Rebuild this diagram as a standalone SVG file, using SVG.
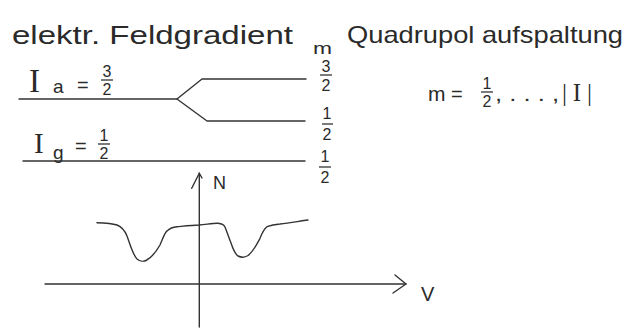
<svg xmlns="http://www.w3.org/2000/svg" width="632" height="329" viewBox="0 0 632 329">
<style>
text{font-family:"Liberation Sans",Arial,sans-serif;fill:#2a2a2a}
.sf{font-family:"Liberation Serif","Times New Roman",serif}
.ln{stroke:#333;stroke-width:1.4;fill:none;stroke-linecap:round;stroke-linejoin:round}
.fr{font-size:16px;text-anchor:middle}
.bar{stroke:#333;stroke-width:1.3}
</style>
<rect width="632" height="329" fill="#fff"/>
<g id="headings">
<text x="12" y="44" font-size="25" textLength="281" lengthAdjust="spacingAndGlyphs">elektr. Feldgradient</text>
<text x="347" y="43" font-size="24" textLength="276" lengthAdjust="spacingAndGlyphs">Quadrupol aufspaltung</text>
</g>
<g id="levels">
<path class="ln" d="M19 99 H177 L202 79 H306"/>
<path class="ln" d="M177 99 L207 121 H305"/>
<path class="ln" d="M23 161 H305"/>
</g>
<g id="level-labels">
<text class="sf" x="29" y="92" font-size="33">I</text>
<text x="53" y="93" font-size="19">a</text>
<text x="77" y="92" font-size="20">=</text>
<text class="fr" x="107" y="77">3</text><line class="bar" x1="101" y1="80" x2="113" y2="80"/><text class="fr" x="107" y="95">2</text>
<text class="sf" x="34" y="153" font-size="29">I</text>
<text x="53" y="159" font-size="19">g</text>
<text x="75" y="153" font-size="20">=</text>
<text class="fr" x="104" y="141">1</text><line class="bar" x1="98" y1="144" x2="110" y2="144"/><text class="fr" x="104" y="159">2</text>
</g>
<g id="m-labels">
<text x="313" y="54" font-size="16" textLength="19" lengthAdjust="spacingAndGlyphs">m</text>
<text class="fr" x="326" y="72">3</text><line class="bar" x1="320" y1="75" x2="332" y2="75"/><text class="fr" x="326" y="91">2</text>
<text class="fr" x="327" y="119">1</text><line class="bar" x1="322" y1="124" x2="333" y2="124"/><text class="fr" x="327" y="140">2</text>
<text class="fr" x="325" y="162">1</text><line class="bar" x1="319" y1="167" x2="331" y2="167"/><text class="fr" x="325" y="183">2</text>
</g>
<g id="m-range">
<text x="428" y="101" font-size="21">m</text>
<text x="451" y="101" font-size="20">=</text>
<text class="fr" x="487" y="89">1</text><line class="bar" x1="481" y1="92" x2="493" y2="92"/><text class="fr" x="487" y="107">2</text>
<text x="495" y="101" font-size="20" textLength="64" lengthAdjust="spacingAndGlyphs">, . . . ,</text>
<text class="sf" x="562" y="101" font-size="25" textLength="30" lengthAdjust="spacing">|I|</text>
</g>
<g id="plot">
<path class="ln" d="M199.3 327 V173"/>
<path class="ln" d="M191.7 188.3 L199.3 173.3 L202 178"/>
<text x="213" y="189" font-size="18">N</text>
<path class="ln" d="M45 284 H406"/>
<path class="ln" d="M395 275 L406 284 L393 293"/>
<text x="421" y="301" font-size="20">V</text>
<path class="ln" d="M97 222.7 C108 223 114 224 117 225 C122 227 125 231 127 236 C130 244 133 255 137 259 C140 261.5 144 261.5 146 260.5 C151 258 156 252 160 245 C163 238 165 232 167 231 C170 228 173 227 177 226.7 C185 226 192 225.3 199.3 225 C206 224.5 214 223 218 223.3 C222 223.7 224 225 225 227 C227 232 229 238 231 243 C233 249 235 254 238 256 C241 257.5 245 257.5 248 255.5 C253 252 257 244 260 238.3 C262 233 264 229 267 226.7 C271 225 275 224.3 280 224 C290 223 300 221 308 220"/>
</g>
</svg>
